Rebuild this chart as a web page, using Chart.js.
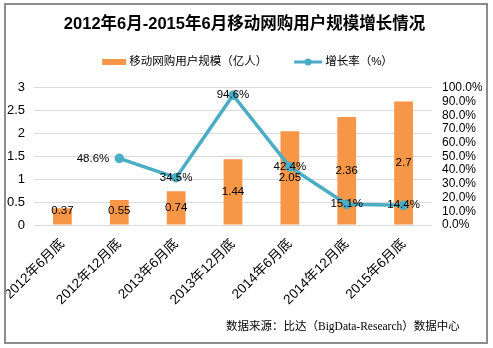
<!DOCTYPE html>
<html>
<head>
<meta charset="utf-8">
<script src="https://cdn.jsdelivr.net/npm/chart.js@4/dist/chart.umd.min.js"></script>
<style>
  html, body { margin: 0; padding: 0; background: #fff; }
  #wrap { position: relative; width: 493px; height: 348px; }
  #frame { position: absolute; left: 4px; top: 3px; width: 480px; height: 337px; border: 2px solid #8c8c8c; pointer-events: none; }
  #source { position: absolute; left: 226px; top: 317px; font: 11.5px "Liberation Serif", "Noto Sans CJK SC", serif; color: #000; white-space: nowrap; }
</style>
</head>
<body>
<div id="wrap">
  <canvas id="myChart" width="493" height="348"></canvas>
  <div id="frame"></div>
  <div id="source">数据来源：比达（BigData-Research）数据中心</div>
</div>
<script>
const periods = ["2012年6月底", "2012年12月底", "2013年6月底", "2013年12月底", "2014年6月底", "2014年12月底", "2015年6月底"];
const users = [0.37, 0.55, 0.74, 1.44, 2.05, 2.36, 2.7]; // 亿人
const growth = [null, 48.6, 34.5, 94.6, 42.4, 15.1, 14.4]; // %

const sansFont = '"Liberation Sans", "Noto Sans CJK SC", sans-serif';
const barColor = "#F79646";
const lineColor = "#4BACC6";

// value labels drawn by hand (no datalabels plugin)
const valueLabels = {
  id: "valueLabels",
  afterDatasetsDraw(chart) {
    const ctx = chart.ctx;
    ctx.save();
    ctx.font = "11.5px " + sansFont;
    ctx.fillStyle = "#000";
    ctx.textBaseline = "middle";
    chart.getDatasetMeta(0).data.forEach((bar, i) => {
      ctx.textAlign = "center";
      // excel keeps short-bar labels a bit off the axis
      const y = Math.min((bar.y + bar.base) / 2, bar.base - 14);
      ctx.fillText(String(users[i]), bar.x, y);
    });
    chart.getDatasetMeta(1).data.forEach((pt, i) => {
      if (growth[i] == null) return;
      let x = pt.x;
      ctx.textAlign = "center";
      if (i === 1) { x = pt.x - 10; ctx.textAlign = "right"; }
      ctx.fillText(growth[i].toFixed(1) + "%", x, pt.y);
    });
    ctx.restore();
  }
};

// legend like the excel one: orange box, line with dot
const comboLegend = {
  id: "comboLegend",
  afterDraw(chart) {
    const ctx = chart.ctx;
    const items = chart.data.datasets.map(ds => ds.label);
    ctx.save();
    ctx.font = "11.5px " + sansFont;
    ctx.textBaseline = "middle";
    const w0 = 24 + 3 + ctx.measureText(items[0]).width;
    const w1 = 28 + 3 + ctx.measureText(items[1]).width;
    const gap = 27;
    let x = chart.width / 2 + 1 - (w0 + gap + w1) / 2;
    const y = 62;
    ctx.fillStyle = barColor;
    ctx.fillRect(x, y - 3, 24, 6);
    ctx.fillStyle = "#000";
    ctx.fillText(items[0], x + 27, y);
    x += w0 + gap;
    ctx.strokeStyle = lineColor;
    ctx.lineWidth = 3;
    ctx.beginPath(); ctx.moveTo(x, y); ctx.lineTo(x + 28, y); ctx.stroke();
    ctx.fillStyle = lineColor;
    ctx.beginPath(); ctx.arc(x + 14, y, 3.5, 0, Math.PI * 2); ctx.fill();
    ctx.fillStyle = "#000";
    ctx.fillText(items[1], x + 31, y);
    ctx.restore();
  }
};

const chart = new Chart(document.getElementById("myChart").getContext("2d"), {
  type: "bar",
  data: {
    labels: periods,
    datasets: [
      {
        label: "移动网购用户规模（亿人）",
        data: users,
        backgroundColor: barColor,
        yAxisID: "y",
        barPercentage: 0.33,
        categoryPercentage: 1,
        order: 2
      },
      {
        type: "line",
        label: "增长率（%）",
        data: growth,
        borderColor: lineColor,
        backgroundColor: lineColor,
        borderWidth: 3.5,
        pointRadius: 3,
        pointBackgroundColor: lineColor,
        tension: 0,
        yAxisID: "y1",
        order: 1
      }
    ]
  },
  options: {
    responsive: false,
    animation: false,
    layout: { padding: { left: 7, right: 11, top: 0, bottom: 37 } },
    plugins: {
      title: {
        display: true,
        text: "2012年6月-2015年6月移动网购用户规模增长情况",
        color: "#000",
        font: { family: sansFont, size: 16.5, weight: "bold" },
        padding: { top: 15, bottom: 53 }
      },
      legend: { display: false },
      tooltip: { enabled: false }
    },
    scales: {
      x: {
        grid: { display: false },
        border: { display: false },
        afterFit(scale) {
          // rotated labels may hang past the plot edge, like in excel
          scale.paddingLeft = 0;
          scale.paddingRight = 0;
        },
        ticks: {
          color: "#000",
          font: { family: sansFont, size: 13.5 },
          maxRotation: 45,
          minRotation: 45,
          autoSkip: false
        }
      },
      y: {
        position: "left",
        min: 0,
        max: 3,
        afterFit(scale) { scale.width = 27; },
        ticks: {
          stepSize: 0.5,
          color: "#000",
          font: { family: sansFont, size: 13 },
          padding: 9,
          callback: v => String(v)
        },
        grid: { color: "#d9d9d9", drawTicks: false },
        border: { display: false }
      },
      y1: {
        position: "right",
        min: 0,
        max: 100,
        afterFit(scale) { scale.width = 50; },
        ticks: {
          stepSize: 10,
          autoSkip: false,
          color: "#000",
          font: { family: sansFont, size: 12 },
          padding: 10,
          callback: v => v.toFixed(1) + "%"
        },
        grid: { display: false, drawTicks: false },
        border: { display: false }
      }
    }
  },
  plugins: [valueLabels, comboLegend]
});
window.myChart = chart;
</script>
</body>
</html>
